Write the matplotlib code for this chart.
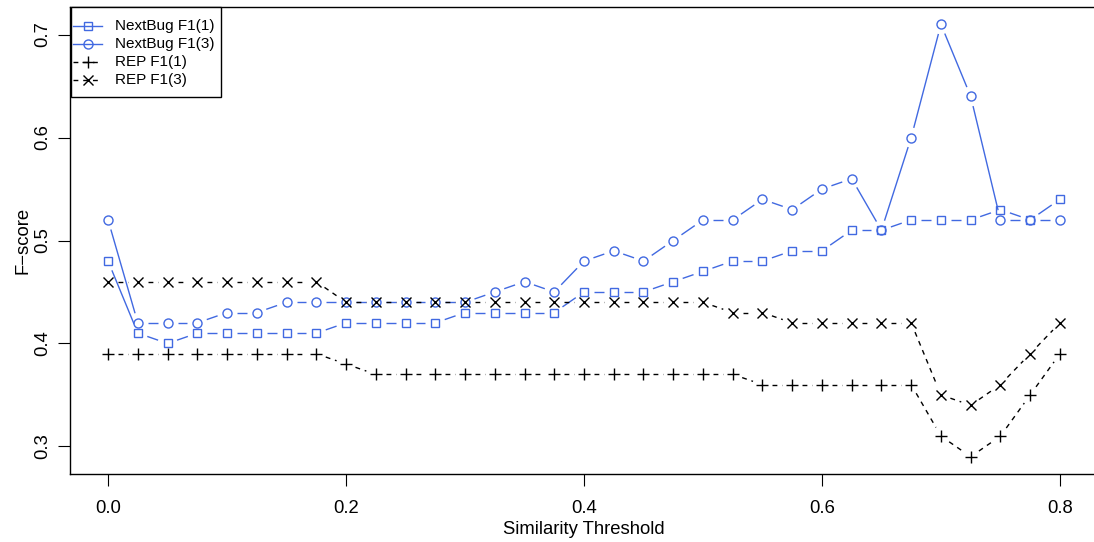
import numpy as np
import matplotlib
matplotlib.use("Agg")
import matplotlib.pyplot as plt
from matplotlib.lines import Line2D
from matplotlib.patches import Rectangle
from matplotlib.transforms import IdentityTransform

plt.rcParams["font.family"] = ["Liberation Sans", "DejaVu Sans"]

# Similarity thresholds on the x axis
threshold = [0.000, 0.025, 0.050, 0.075, 0.100, 0.125, 0.150, 0.175, 0.200,
             0.225, 0.250, 0.275, 0.300, 0.325, 0.350, 0.375, 0.400, 0.425,
             0.450, 0.475, 0.500, 0.525, 0.550, 0.575, 0.600, 0.625, 0.650,
             0.675, 0.700, 0.725, 0.750, 0.775, 0.800]

nextbug_f1_1 = [0.48, 0.41, 0.40, 0.41, 0.41, 0.41, 0.41, 0.41, 0.42,
                0.42, 0.42, 0.42, 0.43, 0.43, 0.43, 0.43, 0.45, 0.45,
                0.45, 0.46, 0.47, 0.48, 0.48, 0.49, 0.49, 0.51, 0.51,
                0.52, 0.52, 0.52, 0.53, 0.52, 0.54]

nextbug_f1_3 = [0.52, 0.42, 0.42, 0.42, 0.43, 0.43, 0.44, 0.44, 0.44,
                0.44, 0.44, 0.44, 0.44, 0.45, 0.46, 0.45, 0.48, 0.49,
                0.48, 0.50, 0.52, 0.52, 0.54, 0.53, 0.55, 0.56, 0.51,
                0.60, 0.71, 0.64, 0.52, 0.52, 0.52]

rep_f1_1 = [0.39, 0.39, 0.39, 0.39, 0.39, 0.39, 0.39, 0.39, 0.38,
            0.37, 0.37, 0.37, 0.37, 0.37, 0.37, 0.37, 0.37, 0.37,
            0.37, 0.37, 0.37, 0.37, 0.36, 0.36, 0.36, 0.36, 0.36,
            0.36, 0.31, 0.29, 0.31, 0.35, 0.39]

rep_f1_3 = [0.46, 0.46, 0.46, 0.46, 0.46, 0.46, 0.46, 0.46, 0.44,
            0.44, 0.44, 0.44, 0.44, 0.44, 0.44, 0.44, 0.44, 0.44,
            0.44, 0.44, 0.44, 0.43, 0.43, 0.42, 0.42, 0.42, 0.42,
            0.42, 0.35, 0.34, 0.36, 0.39, 0.42]

series_labels = ["NextBug F1(1)", "NextBug F1(3)", "REP F1(1)", "REP F1(3)"]
x_ticks = [0.0, 0.2, 0.4, 0.6, 0.8]
y_ticks = [0.3, 0.4, 0.5, 0.6, 0.7]

BLUE = "#4169E1"
DPI = 100
W, H = 1094, 542

fig = plt.figure(figsize=(W / DPI, H / DPI), dpi=DPI)
ax = fig.add_axes([70 / W, 68 / H, 1028 / W, 467 / H])

# 4% padding around the data range on both axes
xr = max(threshold) - min(threshold)
ax.set_xlim(min(threshold) - 0.04 * xr, max(threshold) + 0.04 * xr)
all_y = nextbug_f1_1 + nextbug_f1_3 + rep_f1_1 + rep_f1_3
yr = max(all_y) - min(all_y)
ax.set_ylim(min(all_y) - 0.04 * yr, max(all_y) + 0.04 * yr)


def broken_line(ax, x, y, gap_px, **kw):
    """Connect points with segments that stop short of each marker."""
    pts = ax.transData.transform(np.column_stack([x, y]))
    inv = ax.transData.inverted()
    for p0, p1 in zip(pts[:-1], pts[1:]):
        d = p1 - p0
        length = np.hypot(*d)
        if length <= 2 * gap_px:
            continue
        u = d / length
        a = inv.transform(p0 + u * gap_px)
        b = inv.transform(p1 - u * gap_px)
        ax.plot([a[0], b[0]], [a[1], b[1]], **kw)


DASH = (0, (3.5, 3.5))
series = [
    (nextbug_f1_1, BLUE, "s", "-", 6.3),
    (nextbug_f1_3, BLUE, "o", "-", 6.5),
    (rep_f1_1, "black", "+", DASH, 8.5),
    (rep_f1_3, "black", "x", DASH, 6.5),
]

for vals, col, mk, ls, ms in series:
    broken_line(ax, threshold, vals, 10, color=col, lw=1.0, linestyle=ls,
                solid_capstyle="butt", dash_capstyle="butt")
    ax.plot(threshold, vals, linestyle="none", marker=mk, markersize=ms,
            markerfacecolor="none", markeredgecolor=col, markeredgewidth=1.0)

ax.set_xticks(x_ticks)
ax.set_xticklabels([f"{v:.1f}" for v in x_ticks])
ax.set_yticks(y_ticks)
ax.set_yticklabels([f"{v:.1f}" for v in y_ticks], rotation=90, va="center")
ax.tick_params(axis="both", direction="out", length=8.5, width=0.8,
               labelsize=13.3, color="black")
ax.tick_params(axis="x", pad=10)
ax.tick_params(axis="y", pad=5)

for sp in ax.spines.values():
    sp.set_linewidth(1.0)
    sp.set_color("black")

ax.set_xlabel("Similarity Threshold", fontsize=13.3, labelpad=3)
ax.set_ylabel("F\u2212score", fontsize=13.3, labelpad=2)

# Legend box drawn in pixel space, anchored to the top-left of the plot
px = IdentityTransform()


def top(y):
    return H - y


fig.add_artist(Rectangle((71, top(97)), 150, 90, transform=px,
                         facecolor="white", edgecolor="black", lw=1.0,
                         zorder=5))
for i, ((vals, col, mk, ls, ms), lab) in enumerate(zip(series, series_labels)):
    yy = top(26 + 18 * i)
    fig.add_artist(Line2D([73, 102], [yy, yy], transform=px, color=col,
                          lw=1.0, linestyle=ls, zorder=6))
    fig.add_artist(Line2D([87.5], [yy], transform=px, linestyle="none",
                          marker=mk, markersize=ms, markerfacecolor="none",
                          markeredgecolor=col, markeredgewidth=1.0, zorder=6))
    fig.text(115, yy, lab, transform=px, fontsize=11, va="center",
             ha="left", zorder=7)

fig.savefig("out.png", dpi=DPI)
